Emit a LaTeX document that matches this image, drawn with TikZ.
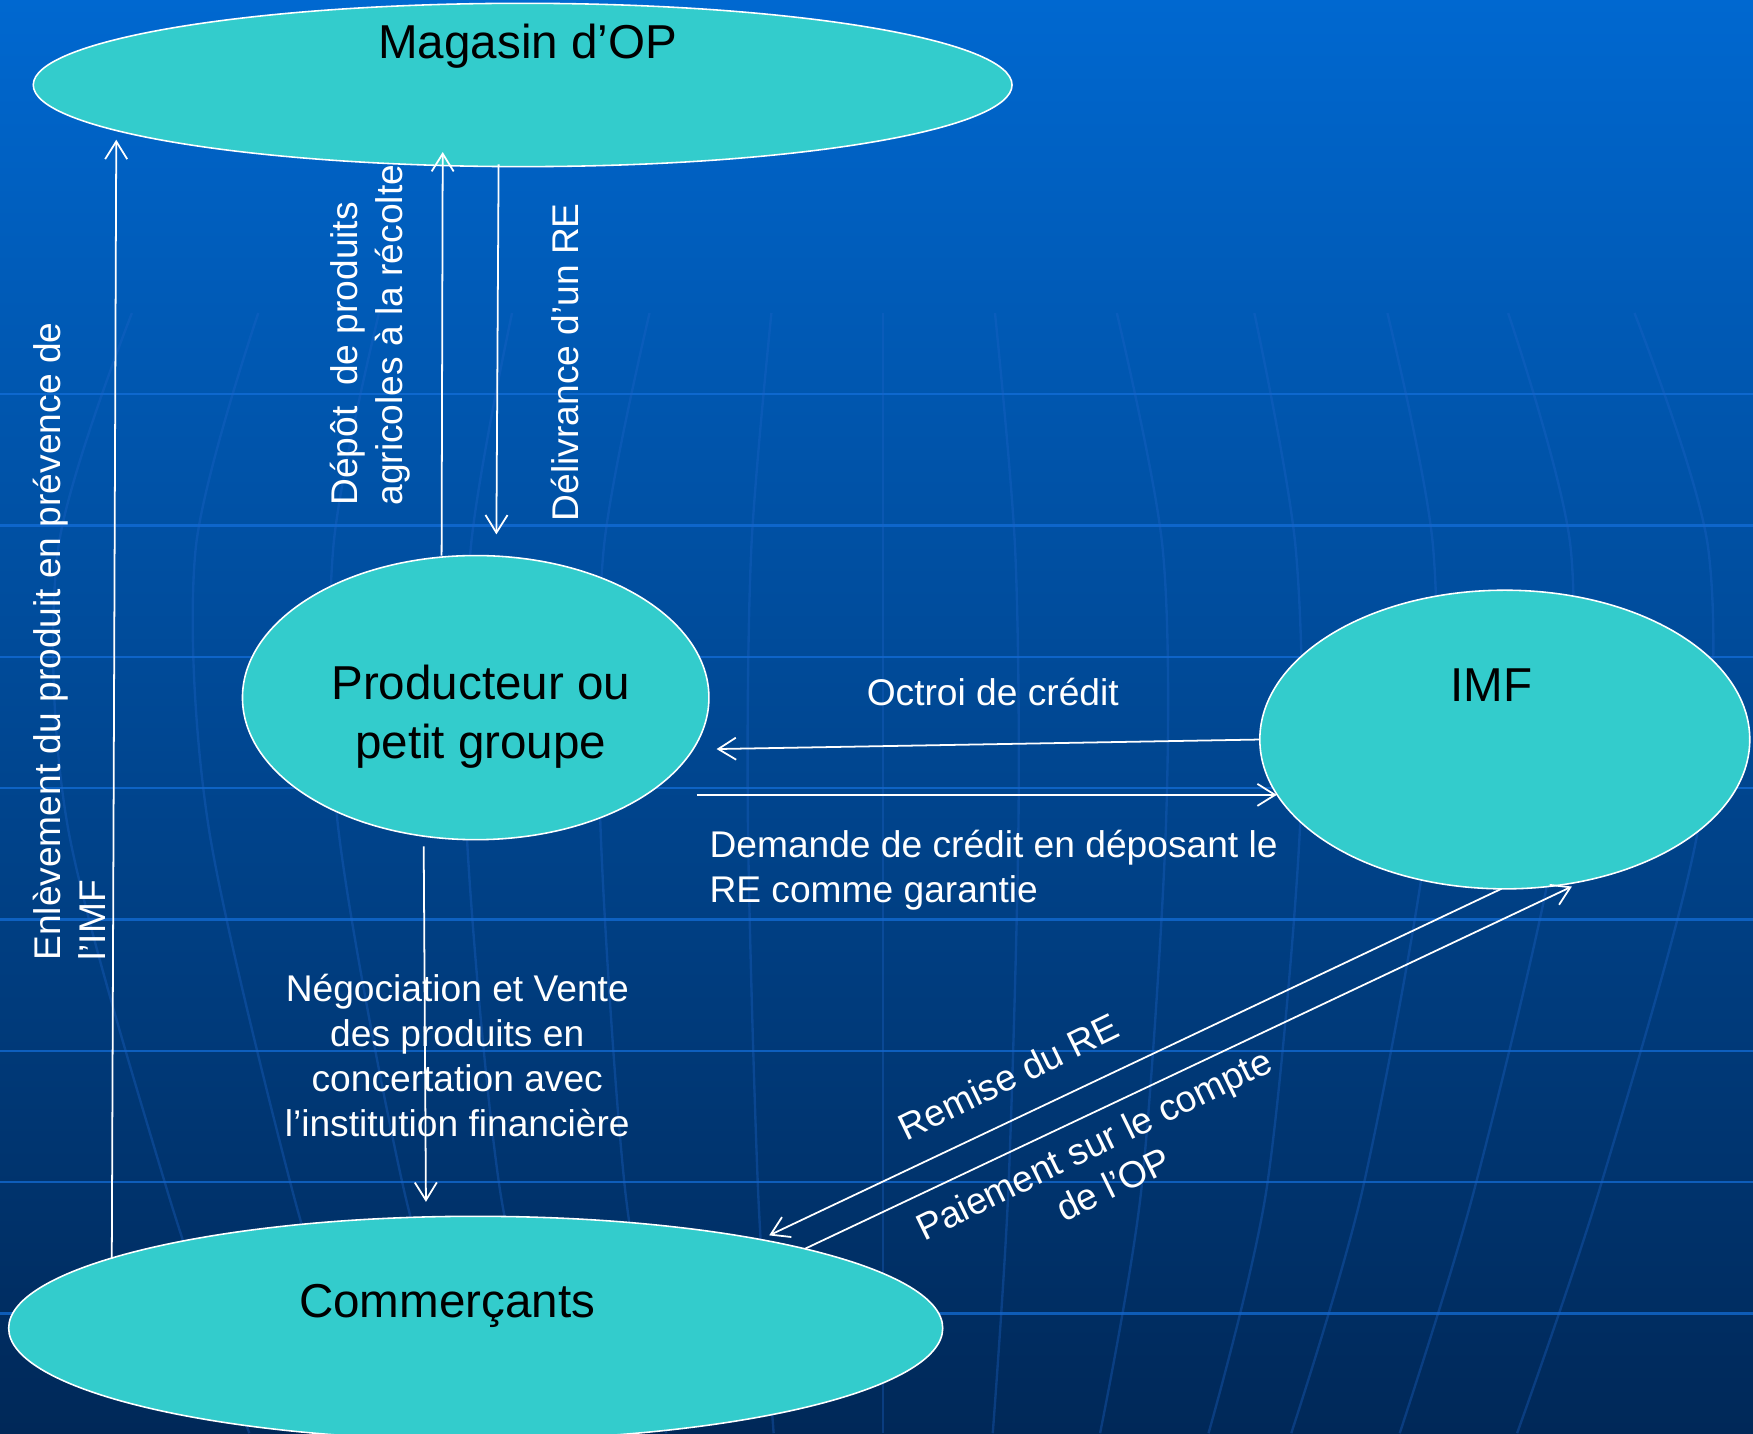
\documentclass[tikz,border=0pt]{standalone}
\usepackage{fontspec}
\setmainfont{Liberation Sans}
\usetikzlibrary{shapes.geometric,arrows.meta}
\definecolor{bgtop}{RGB}{0,104,208}
\definecolor{bgmid}{RGB}{0,82,168}
\definecolor{bgbot}{RGB}{0,40,88}
\definecolor{gridblue}{RGB}{20,112,220}
\definecolor{merblue}{RGB}{30,100,200}
\definecolor{turq}{RGB}{51,204,204}
\newcommand{\bigtxt}{\fontsize{12.1}{14.8}\selectfont}
\newcommand{\smalltxt}{\fontsize{9.45}{11.4}\selectfont}
\tikzset{
  oval/.style={ellipse, fill=turq, draw=white, line width=0.4pt, inner sep=0pt},
  ovaltext/.style={text=black, font=\bigtxt, align=center, inner sep=0pt},
  lbl/.style={text=white, font=\smalltxt, inner sep=0pt},
  conn/.style={draw=white, line width=0.45pt, -{Straight Barb[length=4.5pt,width=5.6pt]}},
  gridline/.style={draw=gridblue, line width=0.6pt, opacity=0.7},
  meridian/.style={draw=merblue, line width=0.6pt, opacity=0.35}
}
\begin{document}
\begin{tikzpicture}[x=0.01cm,y=-0.01cm]
\useasboundingbox (0,0) rectangle (1568,1282);
\clip (0,0) rectangle (1568,1282);
\shade[top color=bgtop, middle color=bgmid, bottom color=bgbot] (0,0) rectangle (1568,1282);
% background globe grid
\foreach \yy in {352.5,470,587.5,705,822.5,940,1057.5,1175}
  \draw[gridline] (0,\yy) -- (1568,\yy);
\draw[meridian] (790,280) -- (790,1282);
\foreach \a/\b/\c/\d/\e in {890/908/911/902/888, 999/1040/1043/1021/984, 1122/1159/1163/1133/1081, 1241/1282/1278/1219/1155, 1349/1405/1394/1319/1252, 1462/1528/1520/1431/1357} {
  \draw[meridian] plot[smooth] coordinates {(\a,280) (\b,491) (\c,736) (\d,1063) (\e,1282)};
  \draw[meridian] plot[smooth] coordinates {(1580-\a,280) (1580-\b,491) (1580-\c,736) (1580-\d,1063) (1580-\e,1282)};
}
% ovals
\node[oval, minimum width=8.75cm, minimum height=1.46cm] (mag) at (467.5,76) {};
\node[oval, minimum width=4.17cm, minimum height=2.54cm] (prod) at (425.5,624) {};
\node[oval, minimum width=4.38cm, minimum height=2.67cm] (imf) at (1346,661.5) {};
\node[oval, minimum width=8.35cm, minimum height=2.00cm] (com) at (425.5,1188) {};
\node[ovaltext] (magt) at (472,41) {Magasin d’OP};
\node[ovaltext] (prodt) at (430,641) {Producteur ou\\petit groupe};
\node[ovaltext] (imft) at (1334,613) {IMF};
\node[ovaltext] (comt) at (400,1168) {Commerçants};
% connector end points
\coordinate (e1s) at (100,1126);
\coordinate (e1e) at (104,125);
\coordinate (d1s) at (395,497);
\coordinate (d1e) at (396,136);
\coordinate (r1s) at (446,147);
\coordinate (r1e) at (444,478);
\coordinate (o1e) at (641,670);
\coordinate (q1s) at (623,711);
\coordinate (q1e) at (1142,711);
\coordinate (n1s) at (379,757);
\coordinate (n1e) at (381,1075);
\coordinate (m1s) at (1343,795);
\coordinate (m1e) at (688,1105);
\coordinate (p1s) at (720,1117);
\coordinate (p1e) at (1406,793);
% connectors
\draw[conn] (e1s) -- (e1e);
\draw[conn] (d1s) -- (d1e);
\draw[conn] (r1s) -- (r1e);
\draw[conn] (imf.west) -- (o1e);
\draw[conn] (q1s) -- (q1e);
\draw[conn] (n1s) -- (n1e);
\draw[conn] (m1s) -- (m1e);
\draw[conn] (p1s) -- (p1e);
% labels
\node[lbl, rotate=90, anchor=west, align=left] (enl) at (62,860) {Enlèvement du produit en prévence de\\l’IMF};
\node[lbl, rotate=90, anchor=west, align=left] (dep) at (331,453) {Dépôt\ \ de produits\\agricoles à la récolte};
\node[lbl, rotate=90] (del) at (505,324) {Délivrance d’un RE};
\node[lbl] (oct) at (888,619) {Octroi de crédit};
\node[lbl, anchor=west, align=left] (dem) at (634,778) {Demande de crédit en déposant le\\RE comme garantie};
\node[lbl, align=center] (neg) at (409,944) {Négociation et Vente\\des produits en\\concertation avec\\l’institution financière};
\node[lbl, rotate=26] (rem) at (902,963) {Remise du RE};
\node[lbl, rotate=26, align=center] (pai) at (987,1041) {Paiement sur le compte\\de l’OP};
\end{tikzpicture}
\end{document}
